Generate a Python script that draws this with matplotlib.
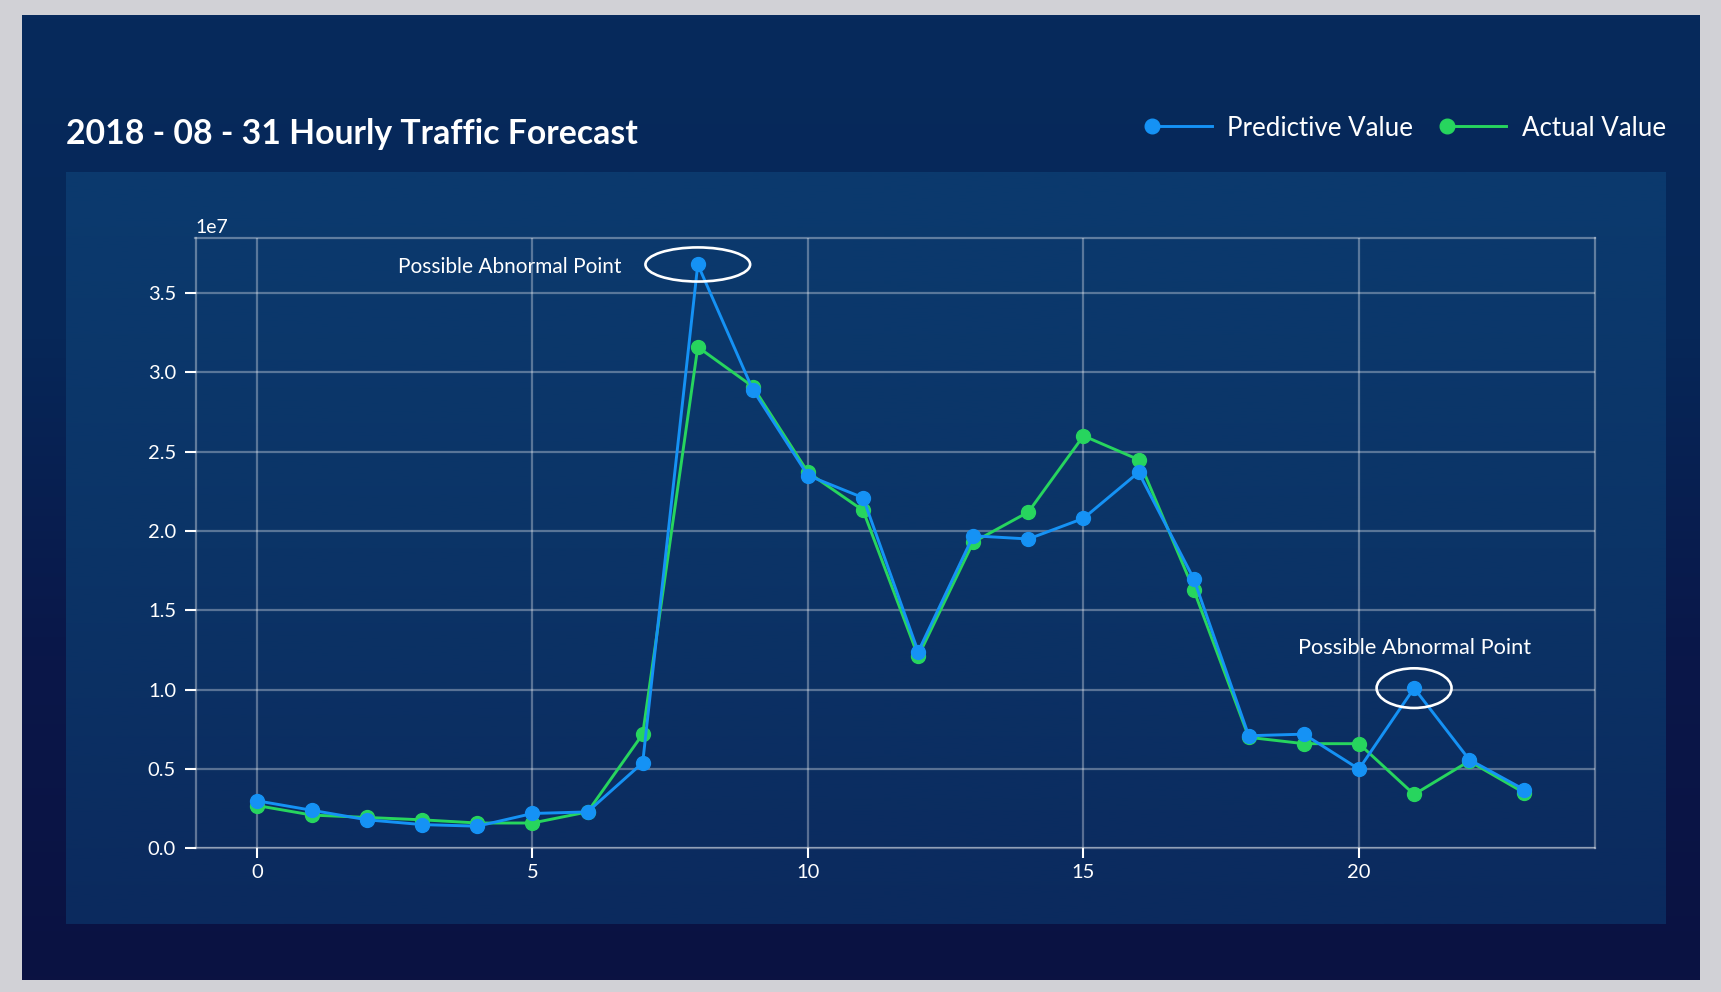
import numpy as np
import matplotlib
matplotlib.use("Agg")
import matplotlib.pyplot as plt
from matplotlib.patches import Ellipse
from matplotlib.lines import Line2D
from matplotlib.legend_handler import HandlerLine2D
from matplotlib.colors import LinearSegmentedColormap

# ---------------- data ----------------
hours = list(range(24))
predictive = [0.30, 0.24, 0.18, 0.15, 0.14, 0.22, 0.23, 0.54, 3.68, 2.89,
              2.35, 2.21, 1.24, 1.97, 1.95, 2.08, 2.37, 1.70, 0.71, 0.72,
              0.50, 1.01, 0.56, 0.37]
actual = [0.27, 0.21, 0.195, 0.18, 0.16, 0.16, 0.23, 0.72, 3.16, 2.91,
          2.37, 2.13, 1.21, 1.93, 2.12, 2.60, 2.45, 1.63, 0.70, 0.66,
          0.66, 0.34, 0.55, 0.35]
predictive = [v * 1e7 for v in predictive]
actual = [v * 1e7 for v in actual]

title = "2018 - 08 - 31 Hourly Traffic Forecast"
series_labels = ["Predictive Value", "Actual Value"]
anomaly_hours = [8, 21]
anomaly_label = "Possible Abnormal Point"

BLUE = "#1592f5"
GREEN = "#27d55e"
FONT = "Lato"

W, H = 1721, 992
fig = plt.figure(figsize=(W / 100, H / 100), dpi=100)
fig.patch.set_facecolor("#d1d1d6")

# background panels (pixel coordinates)
bg = fig.add_axes([0, 0, 1, 1], zorder=-10)
bg.set_xlim(0, W)
bg.set_ylim(H, 0)
bg.axis("off")
outer_cmap = LinearSegmentedColormap.from_list("outer", ["#072a5c", "#062758", "#0a1749", "#0b1242"])
inner_cmap = LinearSegmentedColormap.from_list("inner", ["#0b3a6e", "#0b3467", "#0b2a5e"])
grad = np.linspace(0, 1, 256).reshape(-1, 1)
bg.imshow(grad, cmap=outer_cmap, extent=(22, 1700, 980, 15), aspect="auto", zorder=1)
bg.imshow(grad, cmap=inner_cmap, extent=(66, 1666, 924, 172), aspect="auto", zorder=2)

# main axes
ax = fig.add_axes([195.5 / W, 1 - 848.4 / H, (1594.8 - 195.5) / W, (848.4 - 237.5) / H])
ax.set_facecolor("none")

line_p, = ax.plot(hours, predictive, color=BLUE, lw=2.1, marker="o", ms=10,
                  label=series_labels[0], zorder=4)
line_a, = ax.plot(hours, actual, color=GREEN, lw=2.1, marker="o", ms=10,
                  label=series_labels[1], zorder=3)

ax.set_xlim(-1.116, 24.28)
ax.set_ylim(0, 3.85e7)
ax.set_xticks([0, 5, 10, 15, 20])
ax.set_yticks(np.arange(0, 3.51e7, 0.5e7))
ax.grid(True, color="white", alpha=0.32, lw=1.6)
ax.set_axisbelow(True)
for s in ax.spines.values():
    s.set_color((1, 1, 1, 0.35))
    s.set_linewidth(1.6)
ax.tick_params(axis="y", colors="white", length=8, width=1.5, pad=6, labelsize=14.5)
ax.tick_params(axis="x", colors="white", length=7, width=1.5, pad=4, labelsize=14.5)
for lab in ax.get_xticklabels() + ax.get_yticklabels():
    lab.set_fontfamily(FONT)
ax.yaxis.get_offset_text().set_color("white")
ax.yaxis.get_offset_text().set_fontsize(14)
ax.yaxis.get_offset_text().set_fontfamily(FONT)

# anomalies
ell1 = Ellipse((anomaly_hours[0], predictive[anomaly_hours[0]]), 1.9, 0.215e7,
               fill=False, ec="white", lw=1.9, zorder=5)
ell2 = Ellipse((anomaly_hours[1], predictive[anomaly_hours[1]]), 1.36, 0.25e7,
               fill=False, ec="white", lw=1.9, zorder=5)
ax.add_patch(ell1)
ax.add_patch(ell2)
ax.text(6.62, 3.665e7, anomaly_label, color="white",
        fontsize=15, fontfamily=FONT, ha="right", va="center")
ax.text(anomaly_hours[1], 1.264e7, anomaly_label, color="white",
        fontsize=15.7, fontfamily=FONT, ha="center", va="center")

# title
fig.text(66 / W, 1 - 134.0 / H, title, color="white", fontsize=24.3,
         fontweight="bold", fontfamily=FONT, ha="left", va="center")


class LeftMarkerHandler(HandlerLine2D):
    def create_artists(self, legend, orig_handle, xdescent, ydescent,
                       width, height, fontsize, trans):
        y = (height - ydescent) / 2
        line = Line2D([-xdescent, -xdescent + width], [y, y])
        self.update_prop(line, orig_handle, legend)
        line.set_marker("None")
        mk = Line2D([-xdescent], [y])
        self.update_prop(mk, orig_handle, legend)
        mk.set_linestyle("None")
        mk.set_markersize(orig_handle.get_markersize() * 1.05)
        line.set_transform(trans)
        mk.set_transform(trans)
        return [line, mk]


leg = fig.legend(handles=[line_p, line_a], loc="center right",
                 bbox_to_anchor=(1666 / W, 1 - 128 / H), ncol=2, frameon=False,
                 prop={"family": FONT, "size": 18.6}, handlelength=2.3,
                 handletextpad=0.6, columnspacing=1.3, borderpad=0, borderaxespad=0,
                 handler_map={line_p: LeftMarkerHandler(), line_a: LeftMarkerHandler()})
for t in leg.get_texts():
    t.set_color("white")

fig.savefig("out.png", dpi=100, facecolor=fig.get_facecolor())
